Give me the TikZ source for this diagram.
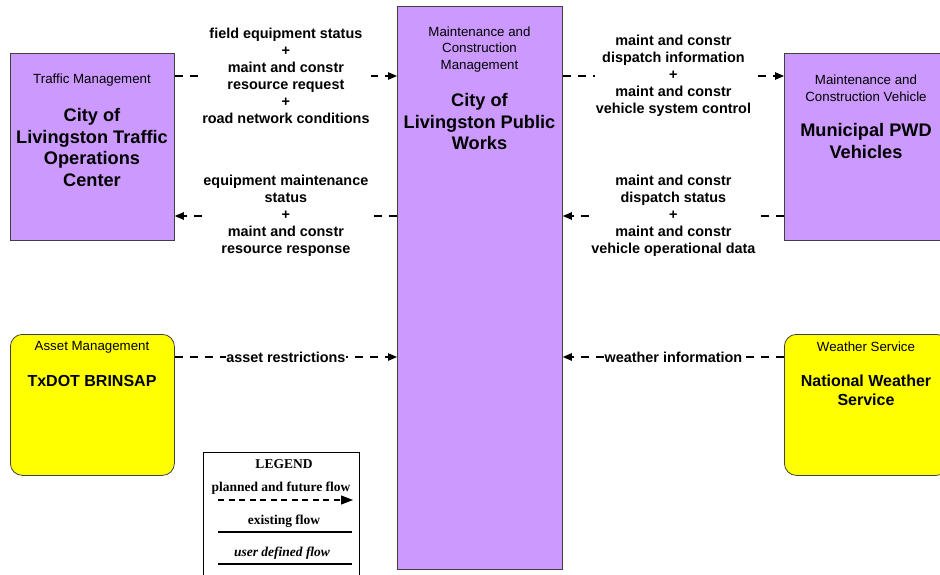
\documentclass[tikz,border=0pt]{standalone}
\usepackage{fontspec}
\setmainfont{Liberation Sans}
\newfontfamily\legendfont{Liberation Serif}
\usetikzlibrary{arrows.meta}
\definecolor{boxpurple}{HTML}{CC99FF}
\definecolor{boxyellow}{HTML}{FFFF00}
\begin{document}
\begin{tikzpicture}[x=1pt,y=-1pt,
  pbox/.style={draw=black!75, fill=boxpurple, line width=0.8pt, minimum width=164pt, inner sep=0pt, anchor=north west},
  ybox/.style={draw=black!75, fill=boxyellow, line width=0.8pt, rounded corners=12pt, minimum width=164pt, inner sep=0pt, anchor=north west},
  cat/.style={font=\fontsize{13.3}{16.5}\selectfont, align=center, inner sep=0pt},
  bigname/.style={font=\bfseries\fontsize{18.2}{21.5}\selectfont, align=center, inner sep=0pt},
  yname/.style={font=\bfseries\fontsize{16}{19}\selectfont, align=center, inner sep=0pt},
  flow/.style={line width=1.1pt, dash pattern=on 8pt off 7pt, -{Triangle[length=9pt,width=7.5pt]}},
  flab/.style={font=\bfseries\fontsize{14.4}{17}\selectfont, align=center, fill=white, inner sep=1pt},
  leg/.style={font=\legendfont\bfseries\fontsize{13.5}{15}\selectfont, inner sep=0pt},
  legline/.style={line width=1.1pt}
]
\useasboundingbox (0,0) rectangle (940,575);
\clip (0,0) rectangle (940,575);

% boxes
\node[pbox, minimum height=187pt] (tmc) at (10,53) {};
\node[pbox, minimum width=165pt, minimum height=563pt] (pw) at (397,6) {};
\node[pbox, minimum height=187pt] (pwd) at (784,53) {};
\node[ybox, minimum height=141pt] (asset) at (10,334) {};
\node[ybox, minimum height=141pt] (nws) at (784,334) {};

% box texts
\node[cat] (tmccat) at (92,80) {Traffic Management};
\node[bigname] (tmcname) at (92,147.5) {City of\\Livingston Traffic\\Operations\\Center};
\node[cat] (pwcat) at (479.5,49.5) {Maintenance and\\Construction\\Management};
\node[bigname] (pwname) at (479.5,121.5) {City of\\Livingston Public\\Works};
\node[cat] (pwdcat) at (866,88) {Maintenance and\\Construction Vehicle};
\node[bigname] (pwdname) at (866,141) {Municipal PWD\\Vehicles};
\node[cat] (assetcat) at (92,347) {Asset Management};
\node[yname] (assetname) at (92,381) {TxDOT BRINSAP};
\node[cat] (nwscat) at (866,347) {Weather Service};
\node[yname] (nwsname) at (866,390.5) {National Weather\\Service};

% flows
\draw[flow] (tmc.east |- 0,76) -- node[flab] (f1) {field equipment status\\+\\maint and constr\\resource request\\+\\road network conditions} (pw.west |- 0,76);
\draw[flow] (pw.west |- 0,216) -- node[flab] (f2) {equipment maintenance\\status\\+\\maint and constr\\resource response} (tmc.east |- 0,216);
\draw[flow] (pw.east |- 0,76) -- node[flab] (f3) {maint and constr\\dispatch information\\+\\maint and constr\\vehicle system control} (pwd.west |- 0,76);
\draw[flow] (pwd.west |- 0,216) -- node[flab] (f4) {maint and constr\\dispatch status\\+\\maint and constr\\vehicle operational data} (pw.east |- 0,216);
\draw[flow] (asset.east |- 0,357) -- node[flab, inner sep=0pt] (f5) {asset restrictions} (pw.west |- 0,357);
\draw[flow] (nws.west |- 0,357) -- node[flab, inner sep=0pt] (f6) {weather information} (pw.east |- 0,357);

% legend
\node[draw, line width=1pt, minimum width=156pt, minimum height=140pt, anchor=north west, inner sep=0pt] (legend) at (203,452) {};
\node[leg] (lgt) at (284,464) {LEGEND};
\node[leg] (lg1) at (281,488) {planned and future flow};
\coordinate (la1) at (218,500);
\coordinate (lb1) at (353,500);
\draw[legline, dash pattern=on 6pt off 4.5pt, -{Triangle[length=12pt,width=9pt]}] (la1) -- (lb1);
\node[leg] (lg2) at (284,521) {existing flow};
\coordinate (la2) at (218,532);
\coordinate (lb2) at (352,532);
\draw[legline] (la2) -- (lb2);
\node[leg, font=\legendfont\bfseries\itshape\fontsize{13.5}{15}\selectfont] (lg3) at (282,553) {user defined flow};
\coordinate (la3) at (218,564);
\coordinate (lb3) at (352,564);
\draw[legline] (la3) -- (lb3);
\end{tikzpicture}
\end{document}
